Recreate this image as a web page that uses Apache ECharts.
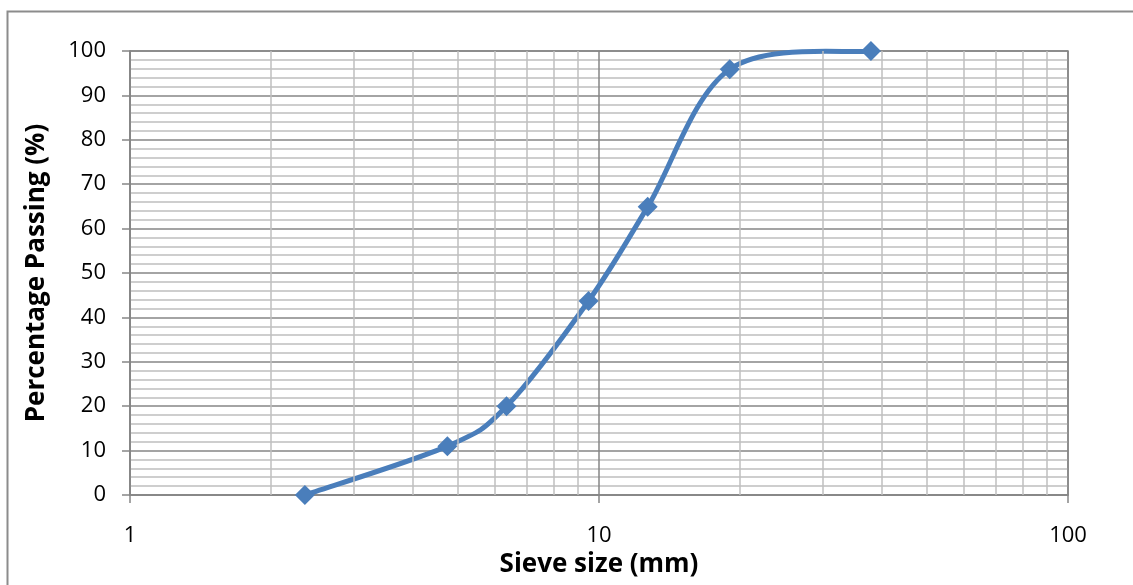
<!DOCTYPE html>
<html><head><meta charset="utf-8">
<script src="https://cdn.jsdelivr.net/npm/echarts@6/dist/echarts.min.js"></script>
<style>html,body{margin:0;padding:0;background:#fff}#c{width:1133px;height:585px}</style>
</head><body><div id="c"></div>
<script>
const sieveSizes = [2.36, 4.75, 6.35, 9.5, 12.7, 19, 38];
const percentPassing = [0, 11, 20, 43.7, 64.9, 95.9, 100];
const minorXGrid = [2,3,4,5,6,7,8,9,20,30,40,50,60,70,80,90];
const xAxisTitle = 'Sieve size (mm)';
const yAxisTitle = 'Percentage Passing (%)';
const FONT = '"Open Sans", sans-serif';
const BLUE = '#4a7ebb';

const points = sieveSizes.map((s, i) => [s, percentPassing[i]]);

function renderSegment(params, api) {
  const i = params.dataIndex, n = points.length;
  if (i >= n - 1) return null;
  const c = k => api.coord(points[Math.max(0, Math.min(n - 1, k))]);
  const p0 = c(i - 1), p1 = c(i), p2 = c(i + 1), p3 = c(i + 2);
  const t = 1 / 6;
  return {
    type: 'bezierCurve',
    shape: {
      x1: p1[0], y1: p1[1], x2: p2[0], y2: p2[1],
      cpx1: p1[0] + (p2[0] - p0[0]) * t, cpy1: p1[1] + (p2[1] - p0[1]) * t,
      cpx2: p2[0] - (p3[0] - p1[0]) * t, cpy2: p2[1] - (p3[1] - p1[1]) * t
    },
    style: {stroke: BLUE, lineWidth: 5, fill: null, lineCap: 'round'},
    silent: true
  };
}

const chart = echarts.init(document.getElementById('c'), null, {renderer: 'canvas'});
chart.setOption({
  animation: false,
  backgroundColor: '#fff',
  graphic: [{
    type: 'rect', shape: {x: 7.5, y: 11.5, width: 1200, height: 700},
    style: {fill: 'none', stroke: '#8c8c8c', lineWidth: 2}, silent: true, z: 0
  }],
  grid: {left: 130, top: 51, right: 65, bottom: 90, show: true, borderColor: '#868686', borderWidth: 1.5, backgroundColor: 'transparent'},
  xAxis: {
    type: 'log', logBase: 10, min: 1, max: 100,
    name: xAxisTitle, nameLocation: 'middle', nameGap: 55,
    nameTextStyle: {fontFamily: FONT, fontSize: 26, fontWeight: 'bold', color: '#000'},
    axisLine: {show: true, lineStyle: {color: '#868686', width: 1.5}},
    axisTick: {show: true, length: 8, inside: false, lineStyle: {color: '#868686', width: 1.5}},
    axisLabel: {fontFamily: FONT, fontSize: 22, color: '#000', margin: 30},
    splitLine: {show: true, lineStyle: {color: '#868686', width: 1.5}},
    minorTick: {show: false}, minorSplitLine: {show: false}
  },
  yAxis: {
    type: 'value', min: 0, max: 100, interval: 10,
    name: yAxisTitle, nameLocation: 'middle', nameGap: 80, nameRotate: 90,
    nameTextStyle: {fontFamily: FONT, fontSize: 26, fontWeight: 'bold', color: '#000'},
    axisLine: {show: true, lineStyle: {color: '#868686', width: 1.5}},
    axisTick: {show: true, length: 8, inside: false, lineStyle: {color: '#868686', width: 1.5}},
    axisLabel: {fontFamily: FONT, fontSize: 22, color: '#000', margin: 24},
    splitLine: {show: true, lineStyle: {color: '#868686', width: 1.5}},
    minorTick: {show: false, splitNumber: 5},
    minorSplitLine: {show: true, lineStyle: {color: '#bfbfbf', width: 1.5}}
  },
  series: [
    {
      type: 'line', data: [], silent: true, z: 1,
      markLine: {
        silent: true, symbol: 'none', label: {show: false}, animation: false,
        lineStyle: {color: '#bfbfbf', width: 1.5, type: 'solid'},
        emphasis: {disabled: true},
        data: minorXGrid.map(v => ({xAxis: v}))
      }
    },
    {
      type: 'custom', z: 4, silent: true,
      renderItem: renderSegment,
      encode: {x: 0, y: 1},
      data: points,
      clip: false
    },
    {
      type: 'scatter', z: 5, silent: true,
      data: points,
      symbol: 'diamond', symbolSize: 20,
      itemStyle: {color: BLUE, opacity: 1, borderWidth: 0}
    }
  ]
});
</script></body></html>
